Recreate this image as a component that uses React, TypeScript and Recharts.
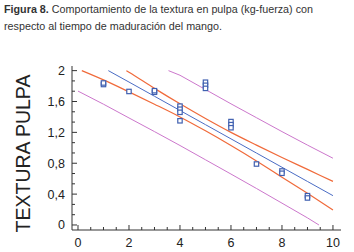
import React from "react";
import {
  ComposedChart,
  Line,
  Scatter,
  XAxis,
  YAxis,
} from "recharts";

// observed texture values (kg-fuerza) by ripening time
const obsX = [1, 1, 2, 3, 3, 4, 4, 4, 4, 5, 5, 5, 6, 6, 6, 7, 8, 8, 9, 9];
const obsY = [
  1.82, 1.84, 1.73, 1.72, 1.74, 1.54, 1.5, 1.46, 1.35, 1.85, 1.81, 1.77,
  1.34, 1.3, 1.26, 0.79, 0.7, 0.67, 0.38, 0.35,
];

// fitted regression line
const fitX = [1.19, 2, 3, 4, 5, 6, 7, 8, 9, 10];
const fitY = [2.0, 1.852, 1.668, 1.484, 1.3, 1.116, 0.932, 0.748, 0.564, 0.38];

// confidence limits (orange)
const confUpX = [1.9, 2, 3, 4, 5, 6, 7, 8, 9, 10];
const confUpY = [2.0, 1.98, 1.77, 1.57, 1.38, 1.2, 1.035, 0.875, 0.72, 0.565];
const confLoX = [0.15, 1, 2, 3, 4, 5, 6, 7, 8, 9, 10];
const confLoY = [2.0, 1.88, 1.725, 1.565, 1.4, 1.22, 1.03, 0.83, 0.62, 0.41, 0.195];

// prediction limits (violet)
const predUpX = [3.55, 4, 5, 6, 7, 8, 9, 10];
const predUpY = [2.0, 1.94, 1.755, 1.57, 1.39, 1.21, 1.035, 0.865];
const predLoX = [0, 1, 2, 3, 4, 5, 6, 7, 8, 9, 9.45];
const predLoY = [1.735, 1.565, 1.387, 1.21, 1.03, 0.845, 0.66, 0.473, 0.283, 0.092, 0.0];

const xTicks = [0, 0.5, 1, 1.5, 2, 2.5, 3, 3.5, 4, 4.5, 5, 5.5, 6, 6.5, 7, 7.5, 8, 8.5, 9, 9.5, 10];
const yTicks = [
  0, 0.1333, 0.2667, 0.4, 0.5333, 0.6667, 0.8, 0.9333, 1.0667, 1.2, 1.3333,
  1.4667, 1.6, 1.7333, 1.8667, 2,
];

const pairs = (xs: number[], ys: number[]) => xs.map((x, i) => ({ x, y: ys[i] }));

const obsData = pairs(obsX, obsY);
const fitData = pairs(fitX, fitY);
const confUpData = pairs(confUpX, confUpY);
const confLoData = pairs(confLoX, confLoY);
const predUpData = pairs(predUpX, predUpY);
const predLoData = pairs(predLoX, predLoY);

const AXIS = "#333";
const FONT = "'Liberation Sans', Arial, sans-serif";

const isMajorX = (v: number) => Math.abs(v / 2 - Math.round(v / 2)) < 1e-6;

function BottomTick(props: any) {
  const { x, y, payload } = props;
  const major = isMajorX(payload.value);
  return (
    <g>
      <line x1={x} y1={y} x2={x} y2={y - (major ? 5 : 3)} stroke={AXIS} />
      {major && (
        <text x={x} y={y + 17} textAnchor="middle" fontSize={12.5} fontFamily={FONT} fill="#222">
          {payload.value}
        </text>
      )}
    </g>
  );
}

function TopTick(props: any) {
  const { x, y, payload } = props;
  const major = isMajorX(payload.value);
  return <line x1={x} y1={y} x2={x} y2={y + (major ? 5 : 3)} stroke={AXIS} />;
}

function LeftTick(props: any) {
  const { x, y, index, payload } = props;
  const major = index % 3 === 0;
  const v = payload.value as number;
  const label = Number.isInteger(v) ? String(v) : v.toFixed(1).replace(".", ",");
  return (
    <g>
      <line x1={x} y1={y} x2={x + (major ? 5 : 3)} y2={y} stroke={AXIS} />
      {major && (
        <text x={x - 7} y={y + 4.5} textAnchor="end" fontSize={12.5} fontFamily={FONT} fill="#222">
          {label}
        </text>
      )}
    </g>
  );
}

function RightTick(props: any) {
  const { x, y, index } = props;
  const major = index % 3 === 0;
  return <line x1={x} y1={y} x2={x - (major ? 5 : 3)} y2={y} stroke={AXIS} />;
}

function Square(props: any) {
  const { cx, cy } = props;
  return (
    <rect x={cx - 2.2} y={cy - 2.2} width={4.4} height={4.4} fill="#fff" stroke="#4060b0" strokeWidth={1.2} />
  );
}

export default function App() {
  return (
    <div style={{ position: "absolute", left: 0, top: 0, width: 354, height: 252, background: "#fff" }}>
      <svg width={354} height={252} style={{ position: "absolute", left: 0, top: 0 }}>
        <text
          x={4}
          y={12.5}
          fontSize={11.5}
          fontFamily="'Liberation Sans Narrow', 'Arial Narrow', sans-serif"
          fill="#333"
          textLength={309}
          lengthAdjust="spacingAndGlyphs"
        >
          <tspan fontWeight="bold">Figura 8.</tspan> Comportamiento de la textura en pulpa (kg-fuerza) con
        </text>
        <text
          x={4}
          y={29.5}
          fontSize={11.5}
          fontFamily="'Liberation Sans Narrow', 'Arial Narrow', sans-serif"
          fill="#333"
          textLength={218}
          lengthAdjust="spacingAndGlyphs"
        >
          respecto al tiempo de maduración del mango.
        </text>
        <text
          x={23}
          y={153.5}
          transform="rotate(-90, 23, 153.5)"
          textAnchor="middle"
          dominantBaseline="central"
          fontSize={19.5}
          fontFamily={FONT}
          fill="#222"
        >
          TEXTURA PULPA
        </text>
      </svg>
      <div style={{ position: "absolute", left: 0, top: 0 }}>
        <ComposedChart width={354} height={252} margin={{ top: 66, right: 13, bottom: 0, left: 0 }}>
          <XAxis
            type="number"
            dataKey="x"
            domain={[-0.235, 10.315]}
            allowDataOverflow
            ticks={xTicks}
            interval={0}
            height={22}
            tickSize={0}
            tickMargin={0}
            tickLine={false}
            axisLine={{ stroke: AXIS }}
            tick={<BottomTick />}
          />
          <XAxis
            xAxisId="top"
            orientation="top"
            type="number"
            dataKey="x"
            domain={[-0.235, 10.315]}
            allowDataOverflow
            ticks={xTicks}
            interval={0}
            height={0}
            tickSize={0}
            tickMargin={0}
            tickLine={false}
            axisLine={{ stroke: AXIS }}
            tick={<TopTick />}
          />
          <YAxis
            type="number"
            dataKey="y"
            domain={[-0.065, 2.06]}
            allowDataOverflow
            ticks={yTicks}
            interval={0}
            width={72}
            tickSize={0}
            tickMargin={0}
            tickLine={false}
            axisLine={{ stroke: AXIS }}
            tick={<LeftTick />}
          />
          <YAxis
            yAxisId="right"
            orientation="right"
            type="number"
            dataKey="y"
            domain={[-0.065, 2.06]}
            allowDataOverflow
            ticks={yTicks}
            interval={0}
            width={0}
            tickSize={0}
            tickMargin={0}
            tickLine={false}
            axisLine={{ stroke: AXIS }}
            tick={<RightTick />}
          />
          <Line data={predUpData} dataKey="y" type="linear" stroke="#cc77cc" strokeWidth={1} dot={false} isAnimationActive={false} />
          <Line data={predLoData} dataKey="y" type="linear" stroke="#cc77cc" strokeWidth={1} dot={false} isAnimationActive={false} />
          <Line data={confUpData} dataKey="y" type="monotone" stroke="#f06a3a" strokeWidth={1.2} dot={false} isAnimationActive={false} />
          <Line data={confLoData} dataKey="y" type="monotone" stroke="#f06a3a" strokeWidth={1.2} dot={false} isAnimationActive={false} />
          <Line data={fitData} dataKey="y" type="linear" stroke="#4a6cc4" strokeWidth={1} dot={false} isAnimationActive={false} />
          <Scatter data={obsData} dataKey="y" shape={<Square />} isAnimationActive={false} />
        </ComposedChart>
      </div>
    </div>
  );
}
